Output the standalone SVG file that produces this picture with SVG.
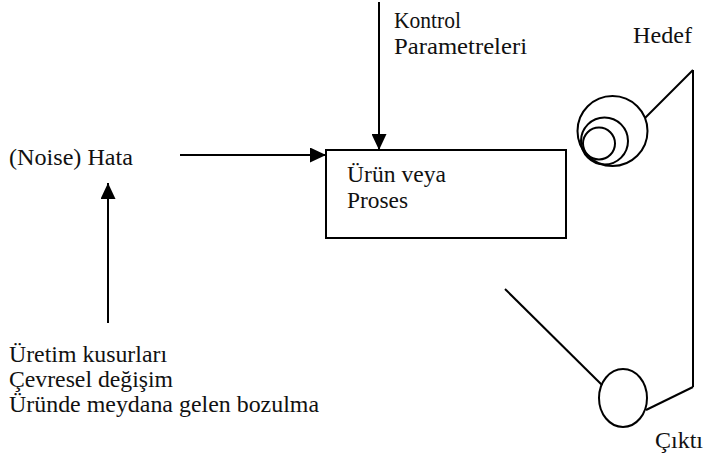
<svg xmlns="http://www.w3.org/2000/svg" width="704" height="459" viewBox="0 0 704 459">
  <style>
    .ln { fill: none; stroke: #000; stroke-width: 2; }
    .lbl { font-family: 'Liberation Serif', 'Times New Roman', serif; font-size: 23px; fill: #111; }
  </style>
  <defs>
    <marker id="arrow" markerWidth="16" markerHeight="15" refX="16" refY="7.5" orient="auto" markerUnits="userSpaceOnUse">
      <path d="M0,0 L16,7.5 L0,15 z" fill="#000"/>
    </marker>
  </defs>
  <rect width="704" height="459" fill="#fff"/>

  <!-- connectors -->
  <g id="connectors">
    <line class="ln" x1="379" y1="2" x2="379" y2="150" marker-end="url(#arrow)"/>
    <line class="ln" x1="180" y1="155" x2="326" y2="155" marker-end="url(#arrow)"/>
    <line class="ln" x1="108" y1="323" x2="108" y2="183" marker-end="url(#arrow)"/>
    <line class="ln" x1="645" y1="118" x2="693" y2="70"/>
    <line class="ln" x1="693" y1="70" x2="693" y2="387"/>
    <line class="ln" x1="693" y1="387" x2="646" y2="410"/>
    <line class="ln" x1="505" y1="289" x2="602" y2="385"/>
  </g>

  <!-- control parameters -->
  <g id="kontrol">
    <text class="lbl" x="394" y="28" textLength="67" lengthAdjust="spacingAndGlyphs">Kontrol</text>
    <text class="lbl" x="394" y="54" textLength="133" lengthAdjust="spacingAndGlyphs">Parametreleri</text>
  </g>

  <!-- noise -->
  <g id="hata">
    <text class="lbl" x="9" y="165" textLength="124" lengthAdjust="spacingAndGlyphs">(Noise) Hata</text>
  </g>

  <!-- product / process box -->
  <g id="proses">
    <rect class="ln" x="326" y="150" width="240" height="88"/>
    <text class="lbl" x="347" y="182" textLength="99" lengthAdjust="spacingAndGlyphs">Ürün veya</text>
    <text class="lbl" x="347" y="208" textLength="61" lengthAdjust="spacingAndGlyphs">Proses</text>
  </g>

  <!-- noise sources -->
  <g id="kaynaklar">
    <text class="lbl" x="9" y="362" textLength="158" lengthAdjust="spacingAndGlyphs">Üretim kusurları</text>
    <text class="lbl" x="9" y="387" textLength="164" lengthAdjust="spacingAndGlyphs">Çevresel değişim</text>
    <text class="lbl" x="9" y="412" textLength="310" lengthAdjust="spacingAndGlyphs">Üründe meydana gelen bozulma</text>
  </g>

  <!-- target -->
  <g id="hedef">
    <circle class="ln" cx="612.5" cy="131" r="35"/>
    <circle class="ln" cx="604.5" cy="141" r="23.5"/>
    <circle class="ln" cx="599" cy="143.5" r="16"/>
    <text class="lbl" x="633" y="43" textLength="59" lengthAdjust="spacingAndGlyphs">Hedef</text>
  </g>

  <!-- output -->
  <g id="cikti">
    <ellipse class="ln" cx="623" cy="398" rx="24" ry="29"/>
    <text class="lbl" x="655" y="448" textLength="48" lengthAdjust="spacingAndGlyphs">Çıktı</text>
  </g>
</svg>
